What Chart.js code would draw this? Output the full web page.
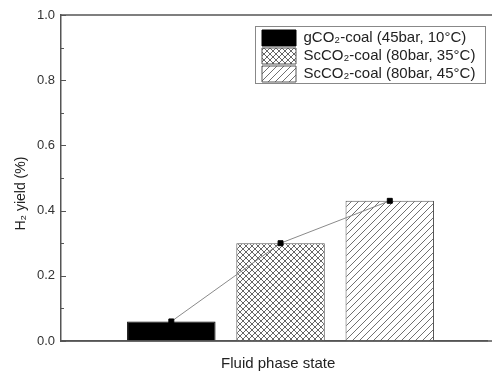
<!DOCTYPE html>
<html><head><meta charset="utf-8">
<script src="https://cdn.jsdelivr.net/npm/chart.js@4/dist/chart.umd.min.js"></script>
<style>html,body{margin:0;padding:0;background:#fff}</style>
</head><body>
<canvas id="c" width="492" height="374"></canvas>
<script>
const categories = ['gCO₂-coal (45bar, 10°C)', 'ScCO₂-coal (80bar, 35°C)', 'ScCO₂-coal (80bar, 45°C)'];
const positions = [1, 2, 3];
const h2Yield = [0.06, 0.30, 0.43];
const yTicks = [0, 0.2, 0.4, 0.6, 0.8, 1.0];
const xTitle = 'Fluid phase state';
const yTitle = 'H₂ yield (%)';

const FAMILY = '"Liberation Sans", Arial, sans-serif';

function makePattern(kind) {
  const s = kind === 'cross' ? 6 : 7;
  const c = document.createElement('canvas');
  c.width = s; c.height = s;
  const g = c.getContext('2d');
  g.fillStyle = '#fff'; g.fillRect(0, 0, s, s);
  g.strokeStyle = kind === 'cross' ? '#666' : '#707070'; g.lineWidth = 1;
  g.beginPath();
  g.moveTo(0, s); g.lineTo(s, 0);
  g.moveTo(-1, 1); g.lineTo(1, -1);
  g.moveTo(s - 1, s + 1); g.lineTo(s + 1, s - 1);
  if (kind === 'cross') {
    g.moveTo(0, 0); g.lineTo(s, s);
    g.moveTo(-1, s - 1); g.lineTo(1, s + 1);
    g.moveTo(s - 1, -1); g.lineTo(s + 1, 1);
  }
  g.stroke();
  return g.createPattern(c, 'repeat');
}

const fills = ['#000', makePattern('cross'), makePattern('slash')];
const borders = ['#000', '#555', '#555'];

const datasets = categories.map((label, i) => ({
  type: 'bar',
  label,
  data: [{ x: positions[i], y: h2Yield[i] }],
  backgroundColor: fills[i],
  borderColor: borders[i],
  borderWidth: 1,
  grouped: false,
  categoryPercentage: 0.81,
  barPercentage: 1,
  order: 1
}));
datasets.push({
  type: 'line',
  label: 'trend',
  data: positions.map((x, i) => ({ x, y: h2Yield[i] })),
  borderColor: '#8a8a8a',
  borderWidth: 1,
  pointRadius: 3.5,
  pointStyle: 'rect',
  pointBackgroundColor: '#000',
  pointBorderColor: '#000',
  order: 0
});

const frame = {
  id: 'frame',
  afterLayout(chart) {
    const lg = chart.legend;
    const w = lg.width, h = lg.height;
    lg.left = 260; lg.top = 28;
    lg.right = lg.left + w; lg.bottom = lg.top + h;
  },
  afterDatasetsDraw(chart) {
    const { ctx, chartArea: a, scales: { y } } = chart;
    ctx.save();
    ctx.strokeStyle = '#555';
    ctx.lineWidth = 1.5;
    ctx.beginPath();
    ctx.moveTo(a.left, a.top); ctx.lineTo(chart.width, a.top);
    ctx.moveTo(a.left, a.bottom); ctx.lineTo(chart.width, a.bottom);
    ctx.stroke();
    ctx.lineWidth = 1;
    for (let k = 0; k <= 10; k++) {
      const py = Math.round(y.getPixelForValue(k / 10)) + 0.5;
      const len = k % 2 === 0 ? 5 : 3;
      ctx.beginPath();
      ctx.moveTo(a.left, py); ctx.lineTo(a.left + len, py);
      ctx.stroke();
    }
    const lg = chart.legend;
    ctx.strokeStyle = '#888';
    ctx.lineWidth = 1;
    ctx.strokeRect(Math.round(lg.left - 5) + 0.5, Math.round(lg.top - 2) + 0.5, 230, 57);
    ctx.restore();
  }
};

new Chart(document.getElementById('c'), {
  type: 'bar',
  data: { datasets },
  options: {
    responsive: false,
    animation: false,
    devicePixelRatio: 1,
    layout: { padding: { top: 15, right: 0, left: 0, bottom: 0 } },
    plugins: {
      tooltip: { enabled: false },
      legend: {
        position: 'chartArea',
        align: 'start',
        labels: {
          filter: (it) => it.datasetIndex < 3,
          boxWidth: 34,
          boxHeight: 16,
          padding: 2,
          color: '#222',
          font: { family: FAMILY, size: 15 }
        }
      }
    },
    scales: {
      x: {
        type: 'linear',
        min: -0.01,
        max: 3.89,
        offset: false,
        afterBuildTicks(s) { s.ticks = positions.map(v => ({ value: v })); },
        ticks: { display: false },
        grid: { display: true, drawOnChartArea: false, drawTicks: false },
        border: { display: true, color: '#555', width: 1.5 },
        title: { display: true, text: '  ' + xTitle, color: '#222', font: { family: FAMILY, size: 15 }, padding: { top: 0, bottom: 1 } },
        afterFit(s) { s.height = 33; }
      },
      y: {
        type: 'linear',
        min: 0,
        max: 1,
        afterBuildTicks(s) { s.ticks = yTicks.map(v => ({ value: v })); },
        ticks: { padding: 6, color: '#333', font: { family: FAMILY, size: 13 }, callback: v => Number(v).toFixed(1) },
        grid: { display: true, drawOnChartArea: false, drawTicks: false },
        border: { display: true, color: '#555', width: 1.5 },
        title: { display: true, text: yTitle + '        ', color: '#222', font: { family: FAMILY, size: 14 }, padding: { top: 13, bottom: 0 } },
        afterFit(s) { s.width = 61; }
      }
    }
  },
  plugins: [frame]
});
</script>
</body></html>
